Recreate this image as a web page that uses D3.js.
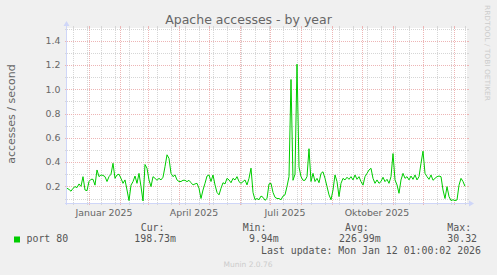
<!DOCTYPE html>
<html>
<head>
<meta charset="utf-8">
<script src="https://cdn.jsdelivr.net/npm/d3@7"></script>
<style>
  html, body { margin: 0; padding: 0; background: #f0f0f0; }
  svg { display: block; }
  text { font-family: "DejaVu Sans", sans-serif; fill: #666; }
  .mono { font-family: "DejaVu Sans Mono", monospace; fill: #555; }
</style>
</head>
<body>
<div id="chart"></div>
<script>
/* Munin "Apache accesses - by year" — rrdtool look-alike in D3 */

// two-day averages, starting 10 Dec 2024
const startDate = new Date(2024, 11, 10);
const stepDays = 2;
const port80 = [
  0.184, 0.175, 0.16, 0.184, 0.198, 0.19, 0.22, 0.2, 0.28, 0.17,
  0.165, 0.24, 0.258, 0.258, 0.21, 0.335, 0.28, 0.294, 0.29, 0.28,
  0.24, 0.28, 0.30, 0.39, 0.266, 0.294, 0.30, 0.266, 0.225, 0.253,
  0.17, 0.083, 0.21, 0.239, 0.285, 0.225, 0.307, 0.198, 0.08, 0.38,
  0.349, 0.253, 0.198, 0.28, 0.266, 0.25, 0.266, 0.253, 0.275, 0.362,
  0.46, 0.43, 0.307, 0.28, 0.294, 0.253, 0.24, 0.24, 0.25, 0.25,
  0.239, 0.25, 0.23, 0.212, 0.22, 0.225, 0.184, 0.10, 0.17, 0.225,
  0.285, 0.294, 0.24, 0.294, 0.212, 0.15, 0.13, 0.184, 0.23, 0.22,
  0.266, 0.253, 0.23, 0.266, 0.253, 0.28, 0.239, 0.225, 0.239, 0.253,
  0.212, 0.266, 0.35, 0.15, 0.09, 0.10, 0.09, 0.12, 0.11, 0.085,
  0.10, 0.22, 0.225, 0.15, 0.11, 0.10, 0.10, 0.09, 0.12, 0.13,
  0.2, 0.28, 1.08, 0.25, 0.30, 1.206, 0.36, 0.28, 0.25, 0.25,
  0.28, 0.51, 0.24, 0.307, 0.24, 0.266, 0.23, 0.307, 0.32, 0.266,
  0.198, 0.13, 0.09, 0.17, 0.294, 0.24, 0.116, 0.225, 0.266, 0.253,
  0.275, 0.258, 0.28, 0.253, 0.294, 0.258, 0.28, 0.239, 0.21, 0.28,
  0.307, 0.335, 0.349, 0.266, 0.225, 0.253, 0.225, 0.24, 0.275, 0.239,
  0.258, 0.225, 0.28, 0.47, 0.253, 0.212, 0.143, 0.253, 0.307, 0.266,
  0.28, 0.253, 0.285, 0.258, 0.294, 0.253, 0.28, 0.39, 0.49, 0.307,
  0.28, 0.258, 0.294, 0.25, 0.266, 0.28, 0.285, 0.28, 0.17, 0.10,
  0.198, 0.116, 0.083, 0.09, 0.083, 0.088, 0.21, 0.266, 0.24, 0.2
];

const yDomain = [0.063, 1.5];
const yMinorTicks = [0.1, 0.3, 0.5, 0.7, 0.9, 1.1, 1.3, 1.5];
const yMajorTicks = [0.2, 0.4, 0.6, 0.8, 1.0, 1.2, 1.4];

const xLabels = ["Januar 2025", "April 2025", "Juli 2025", "Oktober 2025"];
const xLabelMonths = [new Date(2025, 0, 1), new Date(2025, 3, 1), new Date(2025, 6, 1), new Date(2025, 9, 1)];

const legendName = "port 80";
const statNames = ["Cur:", "Min:", "Avg:", "Max:"];
const statValues = ["198.73m", "9.94m", "226.99m", "30.32"];
const lastUpdate = "Last update: Mon Jan 12 01:00:02 2026";

const WIDTH = 497, HEIGHT = 275;
const X0 = 67, X1 = 467, Y0 = 203, Y1 = 28;   // canvas box
const GRID = "#d6d6d6", MGRID = "#edb5b5", AXIS = "#cfd6f8", LINE = "#00cc00";

const svg = d3.select("#chart").append("svg")
  .attr("width", WIDTH).attr("height", HEIGHT);

svg.append("rect").attr("width", WIDTH).attr("height", HEIGHT).attr("fill", "#f0f0f0");
svg.append("rect")
  .attr("x", X0).attr("y", Y1).attr("width", X1 - X0).attr("height", Y0 - Y1)
  .attr("fill", "#fff");

const endDate = d3.timeDay.offset(startDate, 400);
const x = d3.scaleTime().domain([startDate, endDate]).range([X0, X1]);
const y = d3.scaleLinear().domain(yDomain).range([Y0, Y1 + 0.5]);

const series = port80.map((v, i) => ({ t: d3.timeDay.offset(startDate, i * stepDays), v }));

// grid
const grid = svg.append("g").attr("shape-rendering", "crispEdges");
const hLine = (vals, color) => {
  grid.selectAll(null).data(vals).join("line")
    .attr("x1", X0).attr("x2", X1)
    .attr("y1", d => Math.round(y(d)) + 0.5).attr("y2", d => Math.round(y(d)) + 0.5)
    .attr("stroke", color).attr("stroke-dasharray", "1,1");
  // little ticks outside the canvas
  [[X0 - 2, X0], [X1, X1 + 2]].forEach(([a, b]) => {
    grid.selectAll(null).data(vals).join("line")
      .attr("x1", a).attr("x2", b)
      .attr("y1", d => Math.round(y(d)) + 0.5).attr("y2", d => Math.round(y(d)) + 0.5)
      .attr("stroke", color);
  });
};
const vLine = (vals, color) => {
  grid.selectAll(null).data(vals).join("line")
    .attr("x1", d => Math.round(x(d)) + 0.5).attr("x2", d => Math.round(x(d)) + 0.5)
    .attr("y1", Y1).attr("y2", Y0)
    .attr("stroke", color).attr("stroke-dasharray", "1,1");
  [[Y1 - 2, Y1], [Y0, Y0 + 2]].forEach(([a, b]) => {
    grid.selectAll(null).data(vals).join("line")
      .attr("x1", d => Math.round(x(d)) + 0.5).attr("x2", d => Math.round(x(d)) + 0.5)
      .attr("y1", a).attr("y2", b)
      .attr("stroke", color);
  });
};

const weekTicks = d3.timeMonday.range(new Date(2024, 11, 16), endDate, 2);
const monthTicks = d3.timeMonth.range(startDate, endDate);
vLine(weekTicks, GRID);
hLine(yMinorTicks, GRID);
vLine(monthTicks, MGRID);
hLine(yMajorTicks, MGRID);

// y tick labels
svg.append("g").selectAll("text").data(yMajorTicks).join("text")
  .attr("x", 60.5).attr("y", d => y(d) + 3.4)
  .attr("text-anchor", "end")
  .style("font-size", "9.4px")
  .text(d3.format(".1f"));

// x labels, centered half a month after the tick (rrdtool style)
svg.append("g").selectAll("text").data(xLabels).join("text")
  .attr("x", (d, i) => x(d3.timeDay.offset(xLabelMonths[i], 15)))
  .attr("y", 215.5)
  .attr("text-anchor", "middle")
  .style("font-size", "9.4px")
  .text(d => d);

// data line
svg.append("path")
  .datum(series)
  .attr("fill", "none")
  .attr("stroke", LINE)
  .attr("stroke-width", 1)
  .attr("stroke-linejoin", "round")
  .attr("d", d3.line().x(d => x(d.t)).y(d => y(d.v)));

// axes + arrows
const axes = svg.append("g").attr("shape-rendering", "crispEdges");
axes.append("line").attr("x1", X0 - 0.5).attr("x2", X0 - 0.5).attr("y1", Y1 - 2).attr("y2", Y0 + 2).attr("stroke", AXIS);
axes.append("line").attr("x1", X0 - 2).attr("x2", X1 + 3).attr("y1", Y0 + 0.5).attr("y2", Y0 + 0.5).attr("stroke", AXIS);
svg.append("path").attr("d", `M${X0 - 3.5},${Y1 - 2} L${X0 + 2.5},${Y1 - 2} L${X0 - 0.5},${Y1 - 7} Z`).attr("fill", AXIS);
svg.append("path").attr("d", `M${X1 + 2},${Y0 - 2.5} L${X1 + 2},${Y0 + 3.5} L${X1 + 7},${Y0 + 0.5} Z`).attr("fill", AXIS);

// title + vertical label
svg.append("text")
  .attr("x", 248.5).attr("y", 24)
  .attr("text-anchor", "middle")
  .style("font-size", "12.5px")
  .text("Apache accesses - by year");

svg.append("text")
  .attr("transform", "translate(15,114) rotate(-90)")
  .attr("text-anchor", "middle")
  .style("font-size", "11px")
  .text("accesses / second");

svg.append("text")
  .attr("transform", "translate(485,5) rotate(90)")
  .attr("textLength", 96).attr("lengthAdjust", "spacingAndGlyphs")
  .style("font-size", "7px").style("fill", "#cccccc")
  .text("RRDTOOL / TOBI OETIKER");

// legend
svg.append("rect")
  .attr("x", 14).attr("y", 236.5).attr("width", 6).attr("height", 6)
  .attr("fill", LINE);
svg.append("text").attr("class", "mono")
  .attr("x", 26.5).attr("y", 242).style("font-size", "9.9px")
  .text(legendName);

const statNameX = [140.7, 242.7, 345, 447.3];
const statValueX = [134.3, 249, 339, 447.3];
svg.append("g").selectAll("text").data(statNames).join("text")
  .attr("class", "mono")
  .attr("x", (d, i) => statNameX[i]).attr("y", 231)
  .style("font-size", "9.9px")
  .text(d => d);
svg.append("g").selectAll("text").data(statValues).join("text")
  .attr("class", "mono")
  .attr("x", (d, i) => statValueX[i]).attr("y", 242)
  .style("font-size", "9.9px")
  .text(d => d);
svg.append("text").attr("class", "mono")
  .attr("x", 261).attr("y", 253.5).style("font-size", "9.9px")
  .text(lastUpdate);

svg.append("text")
  .attr("x", 248).attr("y", 267)
  .attr("text-anchor", "middle")
  .style("font-size", "7.5px").style("fill", "#cccccc")
  .text("Munin 2.0.76");
</script>
</body>
</html>
